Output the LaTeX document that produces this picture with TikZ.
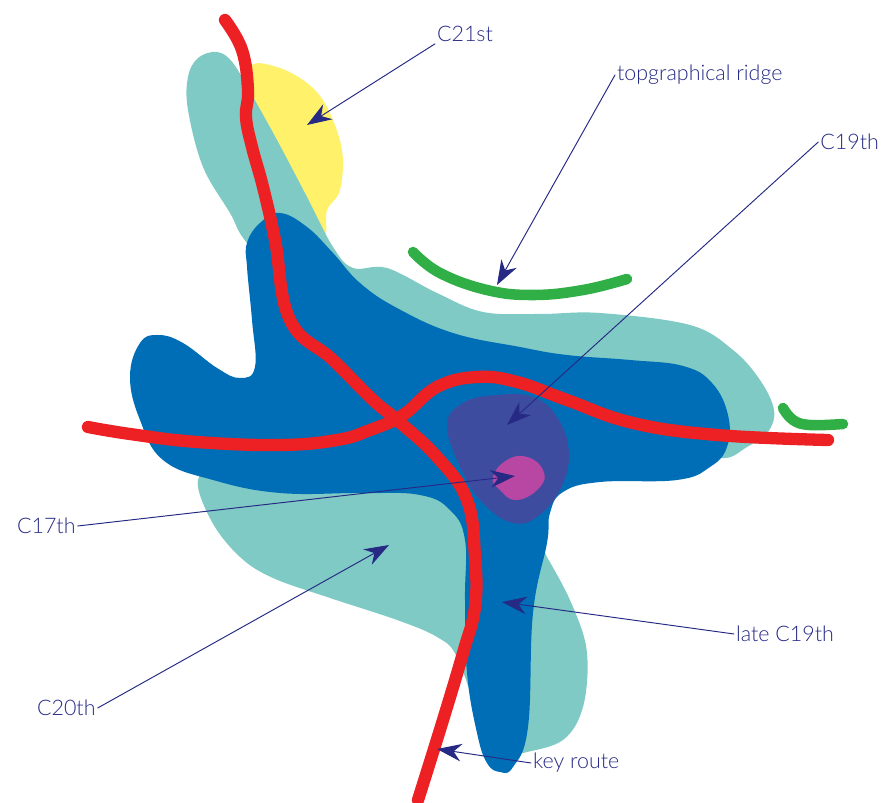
\documentclass[tikz,border=0pt]{standalone}
\usepackage{fontspec}
\setmainfont{Lato Light}
\usetikzlibrary{arrows.meta}
\definecolor{tealzone}{RGB}{127,202,196}
\definecolor{bluezone}{RGB}{0,110,183}
\definecolor{purplezone}{RGB}{62,76,160}
\definecolor{pinkzone}{RGB}{184,71,163}
\definecolor{yellowzone}{RGB}{255,241,105}
\definecolor{routered}{RGB}{237,32,36}
\definecolor{ridgegreen}{RGB}{48,175,70}
\definecolor{labelnavy}{RGB}{38,42,132}
\tikzset{
	zone/.style={fill=#1,draw=none},
	route/.style={draw=routered,line width=7pt},
	ridge/.style={draw=ridgegreen,line width=6pt},
	lbl/.style={text=labelnavy,font=\fontsize{12.2}{14}\selectfont,inner sep=1pt},
	pointer/.style={draw=labelnavy,line width=0.55pt,->}
}
\begin{document}
\begin{tikzpicture}[x=0.02cm,y=-0.02cm,line join=round,line cap=round,>={Stealth[length=14pt,width=10pt,inset=4.5pt]}]
	\useasboundingbox (0,0) rectangle (883,803);
	% zones
	\path[zone=yellowzone] plot[smooth cycle,tension=0.6] coordinates {(250,67) (277,67) (307,83) (327,107) (342,150) (340,190) (327,210) (322,235) (280,170) (250,110)};
	\path[zone=tealzone] plot[smooth cycle,tension=0.6] coordinates {(188,77) (198,58) (217,52) (233,63) (253,97) (277,140) (307,197) (333,247) (353,268) (387,268) (437,293) (483,312) (540,314) (600,313) (690,325) (733,350) (760,380) (774,410) (768,432) (747,447) (722,458) (680,440) (600,420) (300,300) (247,243) (230,213) (203,167) (188,110)};
	\path[zone=tealzone] plot[smooth cycle,tension=0.6] coordinates {(300,470) (225,465) (198,480) (212,522) (240,557) (273,578) (330,598) (397,620) (437,637) (457,657) (480,720) (500,757) (523,753) (563,740) (583,707) (587,653) (573,607) (547,557) (500,480)};
	\path[zone=bluezone] plot[smooth cycle,tension=0.7] coordinates {(247,243) (260,223) (280,213) (307,227) (333,253) (360,283) (397,308) (453,333) (520,347) (567,355) (630,360) (683,366) (712,383) (728,415) (727,447) (710,467) (677,480) (600,482) (563,492) (550,513) (547,543) (533,613) (528,727) (513,767) (500,772) (487,763) (477,733) (467,673) (465,600) (465,540) (450,510) (420,495) (363,493) (280,493) (213,480) (163,460) (140,420) (130,377) (140,343) (158,335) (183,343) (217,368) (240,378) (255,367) (252,320) (247,267)};
	\path[zone=purplezone] plot[smooth cycle,tension=0.7] coordinates {(447,427) (463,403) (497,395) (533,397) (557,417) (569,453) (560,490) (537,517) (513,523) (487,507) (465,477)};
	\path[zone=pinkzone] plot[smooth cycle,tension=0.8] coordinates {(493,477) (507,460) (527,457) (543,470) (540,487) (517,500) (500,490)};
	% ridges
	\draw[ridge] plot[smooth,tension=0.7] coordinates {(413,252) (440,273) (487,290) (533,295) (583,290) (627,279)};
	\draw[ridge] plot[smooth,tension=0.7] coordinates {(783,408) (793,420) (810,425) (843,424)};
	% routes
	\draw[route] plot[smooth,tension=0.7] coordinates {(225,20) (242,50) (248,90) (246,117) (252,147) (263,187) (275,240) (290,320) (333,360) (373,400) (397,420) (437,457) (467,500) (475,557) (475,607) (463,653) (443,720) (418,800)};
	\draw[route] plot[smooth,tension=0.7] coordinates {(88,427) (130,434) (197,442) (280,445) (337,440) (370,430) (403,415) (437,387) (477,377) (517,382) (567,400) (633,423) (717,435) (828,440)};
	% labels
	\node[lbl] (c21) at (465,34) {C21st};
	\node[lbl,anchor=west] (topo) at (615,75) {topgraphical ridge};
	\node[lbl,anchor=east] (c19) at (881,142) {C19th};
	\node[lbl,anchor=west] (c17) at (15,526) {C17th};
	\node[lbl,anchor=west] (c20) at (35,708) {C20th};
	\node[lbl,anchor=west] (lc19) at (734,634) {late C19th};
	\node[lbl,anchor=west] (keyr) at (531,763) {key route};
	\coordinate (c21tip) at (307,125);
	\coordinate (topotip) at (497,285);
	\coordinate (c19tip) at (507,425);
	\coordinate (c17tip) at (515,476);
	\coordinate (c20tip) at (389,545);
	\coordinate (lc19tip) at (502,602);
	\coordinate (keytip) at (437,749);
	\draw[pointer] (c21.south west) -- (c21tip);
	\draw[pointer] (topo.west) -- (topotip);
	\draw[pointer] (c19.west) -- (c19tip);
	\draw[pointer] (c17.east) -- (c17tip);
	\draw[pointer] (c20.east) -- (c20tip);
	\draw[pointer] (lc19.west) -- (lc19tip);
	\draw[pointer] (keyr.west) -- (keytip);
\end{tikzpicture}
\end{document}
